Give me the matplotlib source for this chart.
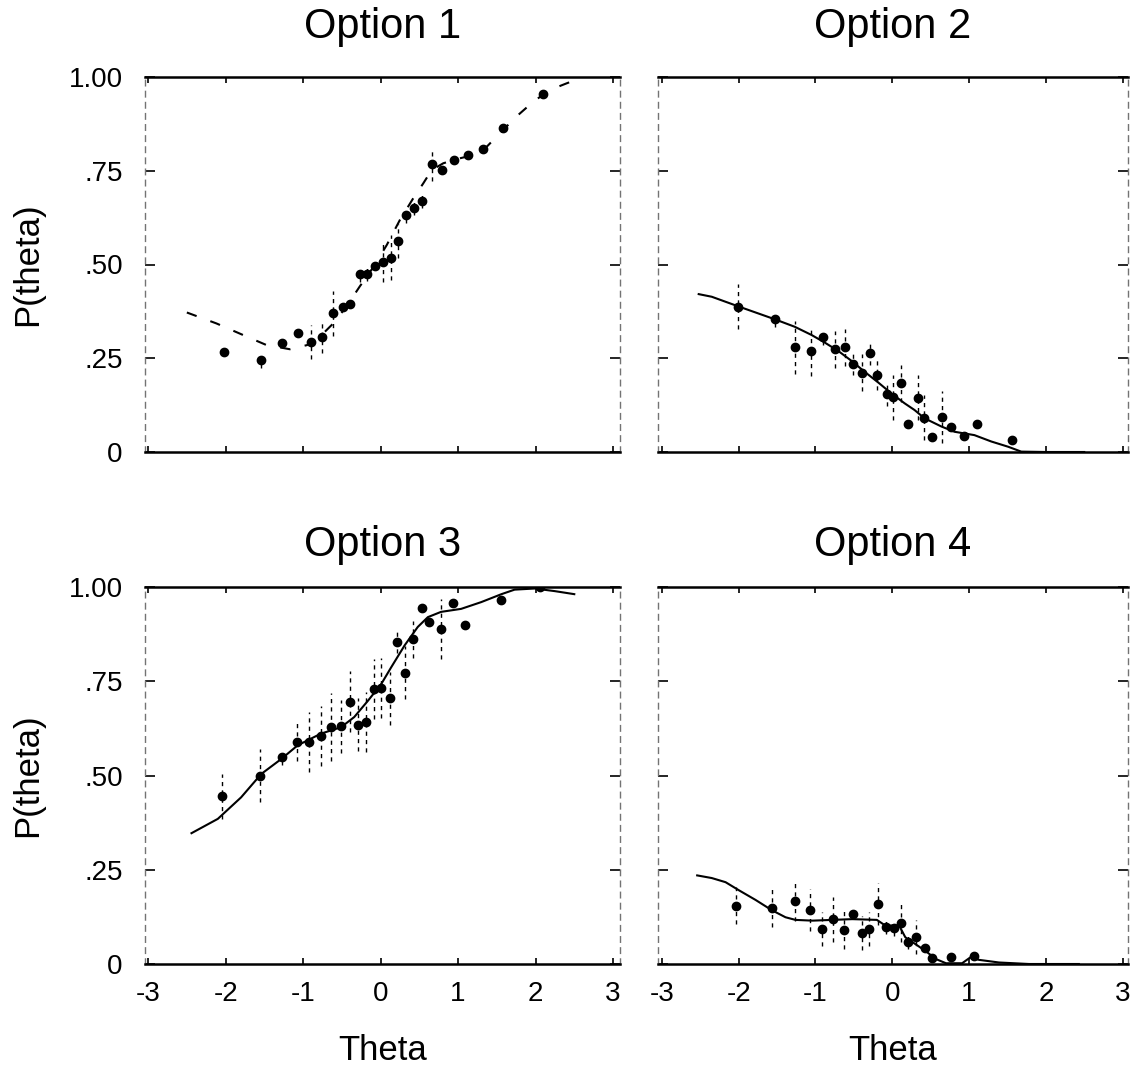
import matplotlib
matplotlib.use("Agg")
import matplotlib.pyplot as plt

plt.rcParams['font.family'] = ['Liberation Sans', 'DejaVu Sans']

# observed proportions (points) with error half-widths, and model curves
opt1_x = [-2.02, -1.54, -1.27, -1.06, -0.90, -0.76, -0.62, -0.49, -0.40, -0.27, -0.18, -0.07,
          0.03, 0.13, 0.22, 0.33, 0.43, 0.54, 0.66, 0.79, 0.95, 1.13, 1.32, 1.58, 2.10]
opt1_y = [0.268, 0.245, 0.290, 0.318, 0.294, 0.308, 0.370, 0.386, 0.394, 0.474, 0.476, 0.497,
          0.508, 0.518, 0.563, 0.632, 0.652, 0.670, 0.767, 0.752, 0.779, 0.792, 0.807, 0.863, 0.955]
opt1_err = [0.0, 0.02, 0.01, 0.0, 0.045, 0.045, 0.06, 0.01, 0.01, 0.02, 0.02, 0.01,
            0.055, 0.06, 0.045, 0.02, 0.02, 0.02, 0.045, 0.01, 0.0, 0.0, 0.0, 0.0, 0.0]
curve1_x = [-2.50, -2.12, -1.73, -1.47, -1.30, -1.17, -0.95, -0.78, -0.61, -0.44, -0.27, -0.09,
            0.08, 0.25, 0.42, 0.55, 0.66, 0.81, 1.02, 1.20, 1.37, 1.54, 1.75, 1.97, 2.18, 2.40, 2.49]
curve1_y = [0.372, 0.343, 0.308, 0.285, 0.279, 0.274, 0.285, 0.308, 0.343, 0.388, 0.441, 0.494,
            0.552, 0.619, 0.676, 0.716, 0.752, 0.770, 0.783, 0.792, 0.814, 0.850, 0.894, 0.934,
            0.965, 0.983, 0.990]

opt2_x = [-2.01, -1.53, -1.27, -1.06, -0.90, -0.75, -0.62, -0.51, -0.39, -0.29, -0.20, -0.07,
          0.01, 0.12, 0.21, 0.33, 0.42, 0.52, 0.65, 0.77, 0.93, 1.10, 1.56]
opt2_y = [0.388, 0.354, 0.279, 0.269, 0.306, 0.274, 0.279, 0.236, 0.212, 0.263, 0.205, 0.154,
          0.146, 0.183, 0.074, 0.145, 0.092, 0.039, 0.094, 0.068, 0.043, 0.076, 0.032]
opt2_err = [0.06, 0.02, 0.07, 0.065, 0.02, 0.05, 0.05, 0.03, 0.05, 0.03, 0.04, 0.03,
            0.06, 0.05, 0.01, 0.06, 0.06, 0.01, 0.07, 0.01, 0.01, 0.01, 0.0]
curve2_x = [-2.52, -2.35, -2.00, -1.53, -1.27, -1.05, -0.88, -0.70, -0.53, -0.36, -0.18, -0.01,
            0.16, 0.29, 0.42, 0.64, 0.81, 1.07, 1.29, 1.51, 1.68, 2.00, 2.50]
curve2_y = [0.421, 0.414, 0.388, 0.354, 0.334, 0.312, 0.292, 0.269, 0.243, 0.214, 0.185, 0.156,
            0.130, 0.112, 0.090, 0.068, 0.054, 0.045, 0.028, 0.014, 0.001, 0.0, 0.0]

opt3_x = [-2.05, -1.56, -1.27, -1.08, -0.92, -0.77, -0.64, -0.51, -0.40, -0.29, -0.19, -0.08,
          0.00, 0.12, 0.21, 0.32, 0.42, 0.53, 0.63, 0.78, 0.94, 1.09, 1.56, 2.06]
opt3_y = [0.445, 0.500, 0.549, 0.588, 0.588, 0.604, 0.628, 0.631, 0.696, 0.635, 0.642, 0.730,
          0.732, 0.705, 0.854, 0.773, 0.861, 0.944, 0.907, 0.889, 0.958, 0.898, 0.966, 1.000]
opt3_err = [0.06, 0.07, 0.02, 0.05, 0.08, 0.08, 0.09, 0.07, 0.08, 0.07, 0.08, 0.08,
            0.08, 0.07, 0.03, 0.07, 0.05, 0.0, 0.01, 0.08, 0.0, 0.0, 0.0, 0.0]
curve3_x = [-2.44, -2.10, -1.80, -1.54, -1.28, -1.07, -0.77, -0.51, -0.34, -0.16, 0.01, 0.14,
            0.31, 0.48, 0.61, 0.78, 1.04, 1.30, 1.56, 1.73, 1.99, 2.25, 2.50]
curve3_y = [0.347, 0.385, 0.442, 0.504, 0.544, 0.580, 0.611, 0.628, 0.655, 0.699, 0.743, 0.788,
            0.845, 0.894, 0.920, 0.934, 0.942, 0.960, 0.981, 0.993, 0.996, 0.989, 0.981]

opt4_x = [-2.04, -1.57, -1.27, -1.07, -0.91, -0.77, -0.63, -0.51, -0.39, -0.30, -0.18, -0.08,
          0.02, 0.11, 0.20, 0.31, 0.43, 0.52, 0.76, 1.07]
opt4_y = [0.155, 0.148, 0.168, 0.143, 0.093, 0.119, 0.091, 0.133, 0.081, 0.093, 0.159, 0.099,
          0.095, 0.108, 0.059, 0.071, 0.042, 0.016, 0.018, 0.022]
opt4_err = [0.05, 0.05, 0.055, 0.055, 0.045, 0.06, 0.05, 0.01, 0.045, 0.045, 0.055, 0.02,
            0.02, 0.05, 0.02, 0.045, 0.01, 0.0, 0.0, 0.01]
curve4_x = [-2.54, -2.35, -2.17, -2.00, -1.78, -1.57, -1.39, -1.26, -1.04, -0.78, -0.52, -0.20,
            -0.09, 0.09, 0.17, 0.30, 0.43, 0.57, 0.70, 0.91, 1.02, 1.13, 1.39, 1.78, 2.43]
curve4_y = [0.235, 0.228, 0.217, 0.196, 0.170, 0.143, 0.124, 0.117, 0.115, 0.117, 0.119, 0.117,
            0.102, 0.102, 0.071, 0.053, 0.035, 0.013, 0.002, 0.002, 0.018, 0.011, 0.004, 0.0, 0.0]

titles = ["Option 1", "Option 2", "Option 3", "Option 4"]
x_ticks = [-3, -2, -1, 0, 1, 2, 3]
y_ticks = [0, 0.25, 0.5, 0.75, 1.0]
y_labels = ["0", ".25", ".50", ".75", "1.00"]

fig = plt.figure(figsize=(11.37, 10.75), dpi=100)
W, H = 1137.0, 1075.0
rects = [
    [145 / W, 1 - 452 / H, 475 / W, 375 / H],
    [658 / W, 1 - 452 / H, 470 / W, 375 / H],
    [145 / W, 1 - 964 / H, 475 / W, 377 / H],
    [658 / W, 1 - 964 / H, 470 / W, 377 / H],
]
xlims = [(-3.04, 3.09), (-3.05, 3.07), (-3.04, 3.09), (-3.05, 3.07)]
title_pads = [28, 28, 22, 22]

points = [(opt1_x, opt1_y, opt1_err), (opt2_x, opt2_y, opt2_err),
          (opt3_x, opt3_y, opt3_err), (opt4_x, opt4_y, opt4_err)]
curves = [(curve1_x, curve1_y, (0, (5, 7))), (curve2_x, curve2_y, '-'),
          (curve3_x, curve3_y, '-'), (curve4_x, curve4_y, '-')]

for i in range(4):
    ax = fig.add_axes(rects[i])
    px, py, pe = points[i]
    cx, cy, ls = curves[i]
    ax.plot(cx, cy, color='black', linestyle=ls, linewidth=1.5)
    eb = ax.errorbar(px, py, yerr=pe, fmt='o', color='black', markersize=6,
                     elinewidth=1.0, capsize=0)
    eb[2][0].set_linestyle((0, (3, 3)))

    ax.set_xlim(*xlims[i])
    ax.set_ylim(0, 1.0)
    ax.set_xticks(x_ticks)
    ax.set_yticks(y_ticks)
    ax.tick_params(axis='both', direction='in', top=True, right=True, width=1.2)
    ax.tick_params(axis='y', length=7, pad=16, labelsize=20)
    ax.tick_params(axis='x', length=4, pad=12, labelsize=20)

    for side in ['top', 'bottom']:
        ax.spines[side].set_linewidth(1.8)
    for side in ['left', 'right']:
        ax.spines[side].set_linewidth(1.0)
        ax.spines[side].set_color('0.45')
        ax.spines[side].set_linestyle((0, (4, 4)))

    if i % 2 == 0:
        ax.set_yticklabels(y_labels)
        ax.set_ylabel("P(theta)", fontsize=25, labelpad=18)
    else:
        ax.set_yticklabels([])
    if i >= 2:
        ax.set_xticklabels([str(t) for t in x_ticks])
        ax.set_xlabel("Theta", fontsize=25, labelpad=20)
    else:
        ax.set_xticklabels([])
    ax.set_title(titles[i], fontsize=30, pad=title_pads[i])

fig.savefig("out.png", dpi=100)
